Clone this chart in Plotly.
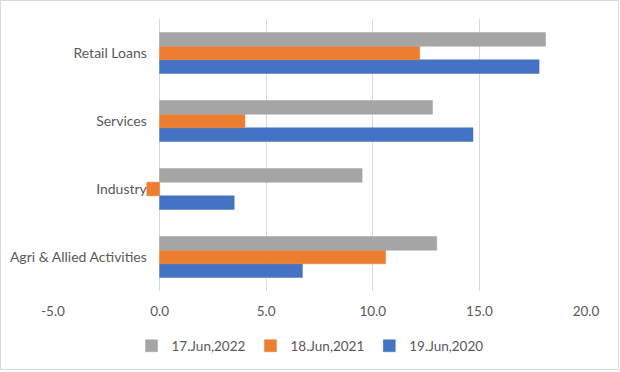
import plotly.graph_objects as go

categories = ["Agri & Allied Activities", "Industry", "Services", "Retail Loans"]
series_names = ["19.Jun,2020", "18.Jun,2021", "17.Jun,2022"]
values_2020 = [6.7, 3.5, 14.7, 17.8]
values_2021 = [10.6, -0.6, 4.0, 12.2]
values_2022 = [13.0, 9.5, 12.8, 18.1]
colors = ["#4472C4", "#ED7D31", "#A5A5A5"]
x_tick_vals = [-5, 0, 5, 10, 15, 20]
x_tick_labels = ["-5.0", "0.0", "5.0", "10.0", "15.0", "20.0"]

W, H = 620, 372
ml, mr, mt, mb = 53, 34, 19, 81
x_min, x_max = -5, 20

fig = go.Figure()
for name, vals, col in zip(series_names, [values_2020, values_2021, values_2022], colors):
    fig.add_trace(go.Bar(
        y=categories, x=vals, name=name, orientation="h",
        marker=dict(color=col, line=dict(color=col, width=0.5)),
    ))

zero_pos = (0 - x_min) / (x_max - x_min)

fig.update_layout(
    template="none",
    width=W, height=H,
    margin=dict(l=ml, r=mr, t=mt, b=mb, pad=0),
    paper_bgcolor="white", plot_bgcolor="white",
    font=dict(family="Lato", size=13.5, color="#595959"),
    barmode="group", bargap=0.4, bargroupgap=0,
    xaxis=dict(
        automargin=False,
        range=[x_min, x_max], tickvals=x_tick_vals, ticktext=x_tick_labels,
        showgrid=True, gridcolor="#D9D9D9", gridwidth=1, zeroline=False,
        showline=False, ticks="outside", ticklen=8, tickcolor="rgba(0,0,0,0)",
        fixedrange=True,
    ),
    yaxis=dict(
        automargin=False,
        anchor="free", position=zero_pos,
        showgrid=False, zeroline=False, showline=False,
        ticks="outside", ticklen=10, tickcolor="rgba(0,0,0,0)",
        categoryorder="array", categoryarray=categories,
        tickfont=dict(size=14),
    ),
    showlegend=True,
    legend=dict(
        orientation="h", traceorder="reversed",
        xref="container", yref="container",
        x=0.5, xanchor="center", y=1 - 346 / H, yanchor="middle",
        itemwidth=30, font=dict(size=13.5, color="#595959"),
        bgcolor="rgba(0,0,0,0)",
    ),
    shapes=[dict(
        type="rect", xref="paper", yref="paper",
        x0=(-ml + 0.5) / (W - ml - mr), x1=(W - ml - 1.5) / (W - ml - mr),
        y0=(-mb + 2.5) / (H - mt - mb), y1=(H - mb - 0.5) / (H - mt - mb),
        line=dict(color="#D9D9D9", width=1), fillcolor="rgba(0,0,0,0)", layer="below",
    )],
)

fig.write_html(
    "out.html",
    config={"displayModeBar": False},
    post_script="document.body.style.margin='0';document.body.style.overflow='hidden';",
)
